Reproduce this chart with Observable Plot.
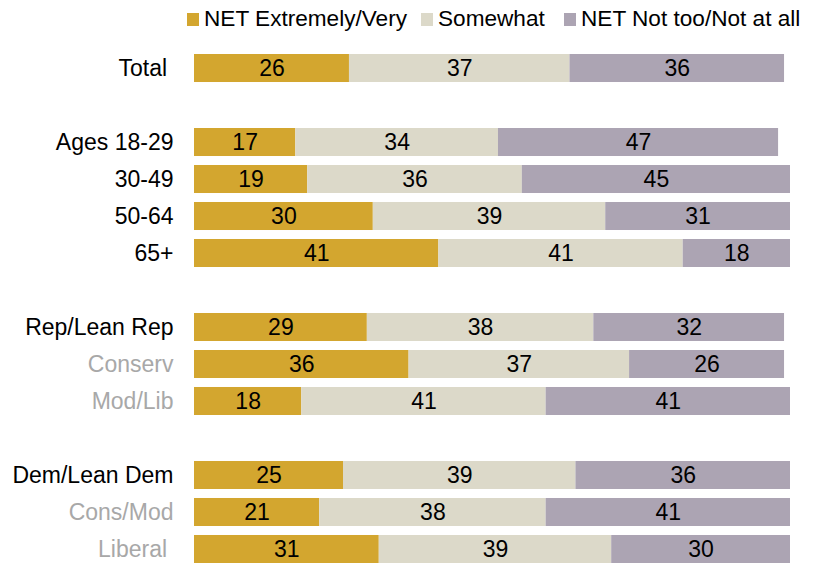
<!DOCTYPE html>
<html>
<head>
<meta charset="utf-8">
<script src="https://cdn.jsdelivr.net/npm/d3@7"></script>
<script src="https://cdn.jsdelivr.net/npm/@observablehq/plot@0.6"></script>
<style>
  html, body { margin: 0; padding: 0; background: #fff; }
  body { width: 813px; height: 563px; overflow: hidden; font-family: "Liberation Sans", Arial, sans-serif; }
  #legend { position: relative; height: 30px; }
  .item { position: absolute; top: 7px; display: flex; align-items: center; font-size: 22.6px; color: #000; line-height: 24px; white-space: nowrap; }
  .sw { width: 12px; height: 13px; margin-right: 5px; }
  svg { display: block; }
</style>
</head>
<body>
<div id="legend"></div>
<div id="chart"></div>
<script>
const rows = ["Total", "gap1", "Ages 18-29", "30-49", "50-64", "65+", "gap2",
  "Rep/Lean Rep", "Conserv", "Mod/Lib", "gap3", "Dem/Lean Dem", "Cons/Mod", "Liberal"];
const rowLabels = ["Total\u00a0", "", "Ages 18-29", "30-49", "50-64", "65+", "",
  "Rep/Lean Rep", "Conserv", "Mod/Lib", "", "Dem/Lean Dem", "Cons/Mod", "Liberal\u00a0"];
const subgroup = [false, false, false, false, false, false, false,
  false, true, true, false, false, true, true];
const categories = ["Total", "Ages 18-29", "30-49", "50-64", "65+",
  "Rep/Lean Rep", "Conserv", "Mod/Lib", "Dem/Lean Dem", "Cons/Mod", "Liberal"];
const series = ["NET Extremely/Very", "Somewhat", "NET Not too/Not at all"];
const extremelyVery = [26, 17, 19, 30, 41, 29, 36, 18, 25, 21, 31];
const somewhat      = [37, 34, 36, 39, 41, 38, 37, 41, 39, 38, 39];
const notToo        = [36, 47, 45, 31, 18, 32, 26, 41, 36, 41, 30];
const colors = ["#D3A62F", "#DCD9C9", "#ACA4B3"];
const legendX = [187, 421, 564];

const seriesValues = [extremelyVery, somewhat, notToo];
const data = [];
categories.forEach((c, i) => {
  series.forEach((s, j) => data.push({row: c, series: s, value: seriesValues[j][i]}));
});
const labelData = rows.map((r, i) => ({row: r, label: rowLabels[i], sub: subgroup[i]}));

// legend
const legend = document.getElementById("legend");
series.forEach((s, j) => {
  const it = document.createElement("div");
  it.className = "item";
  it.style.left = legendX[j] + "px";
  it.innerHTML = `<span class="sw" style="background:${colors[j]}"></span><span>${s}</span>`;
  legend.appendChild(it);
});

const chart = Plot.plot({
  width: 813,
  height: 533,
  marginLeft: 194,
  marginRight: 23,
  marginTop: 24,
  marginBottom: 0,
  style: {fontFamily: "'Liberation Sans', Arial, sans-serif", background: "#fff"},
  x: {domain: [0, 100], axis: null},
  y: {domain: rows, axis: null, paddingInner: 0.243, paddingOuter: 0, align: 0, round: false},
  color: {domain: series, range: colors},
  marks: [
    Plot.barX(data, Plot.stackX({x: "value", y: "row", fill: "series", order: series})),
    Plot.text(data, Plot.stackX({x: "value", y: "row", z: "series", order: series,
      text: d => String(d.value), fill: "#000", fontSize: 23})),
    Plot.text(labelData, {y: "row", text: "label", frameAnchor: "left", textAnchor: "end", dx: -21,
      fill: d => d.sub ? "#A8A8A8" : "#000", fontSize: 23})
  ]
});
document.getElementById("chart").appendChild(chart);
</script>
</body>
</html>
